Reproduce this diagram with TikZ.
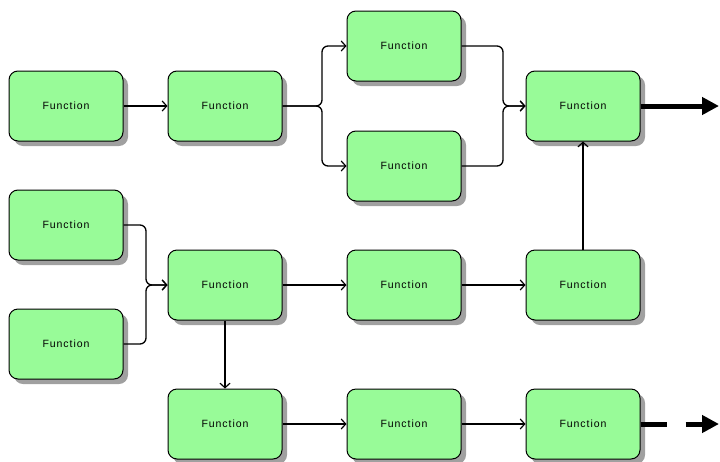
\documentclass[tikz,border=0pt]{standalone}
\usepackage{fontspec}
\newfontfamily\boxfont[LetterSpace=9]{Liberation Sans}
\usetikzlibrary{arrows.meta}
\definecolor{fnfill}{RGB}{152,251,152}
\definecolor{shadowgray}{RGB}{160,160,160}
\tikzset{
  fn/.style={draw=black, line width=1pt, fill=fnfill, rounded corners=9pt,
    minimum width=114pt, minimum height=70pt, inner sep=0pt,
    font=\boxfont\fontsize{10.5}{12}\selectfont,
    preaction={fill=shadowgray, draw=none, transform canvas={shift={(5pt,-5pt)}}}},
  conn/.style={line width=1.3pt, rounded corners=6pt, -{Straight Barb[length=4.5pt,width=10pt,line width=1.2pt]}},
  bigarrow/.style={line width=5pt, -{Triangle[length=17pt,width=17pt]}}
}
\begin{document}
\begin{tikzpicture}[x=1pt,y=-1pt]
\useasboundingbox (0,0) rectangle (720,461);
% nodes
\node[fn] (a1) at (66,106) {Function};
\node[fn] (a2) at (225,106) {Function};
\node[fn] (t1) at (404,46) {Function};
\node[fn] (t2) at (404,166) {Function};
\node[fn] (a3) at (583,106) {Function};
\node[fn] (b1) at (66,225) {Function};
\node[fn] (b2) at (66,344) {Function};
\node[fn] (b3) at (225,285) {Function};
\node[fn] (b4) at (404,285) {Function};
\node[fn] (b5) at (583,285) {Function};
\node[fn] (c1) at (225,424) {Function};
\node[fn] (c2) at (404,424) {Function};
\node[fn] (c3) at (583,424) {Function};
% junction coordinates
\coordinate (fork) at (322,106);
\coordinate (merge) at (503,106);
\coordinate (join) at (146,285);
\coordinate (outA) at (719,106);
\coordinate (outC) at (719,424);
% connectors
\draw[conn] (a1) -- (a2);
\draw[conn] (a2.east) -- (fork) |- (t1.west);
\draw[conn] (a2.east) -- (fork) |- (t2.west);
\draw[conn] (t1.east) -| (merge) -- (a3.west);
\draw[conn] (t2.east) -| (merge) -- (a3.west);
\draw[conn] (b1.east) -| (join) -- (b3.west);
\draw[conn] (b2.east) -| (join) -- (b3.west);
\draw[conn] (b3) -- (b4);
\draw[conn] (b4) -- (b5);
\draw[conn] (b5) -- (a3);
\draw[conn] (b3) -- (c1);
\draw[conn] (c1) -- (c2);
\draw[conn] (c2) -- (c3);
\draw[bigarrow] (a3.east) -- (outA);
\draw[bigarrow, dash pattern=on 26pt off 19pt] (c3.east) -- (outC);
\end{tikzpicture}
\end{document}
